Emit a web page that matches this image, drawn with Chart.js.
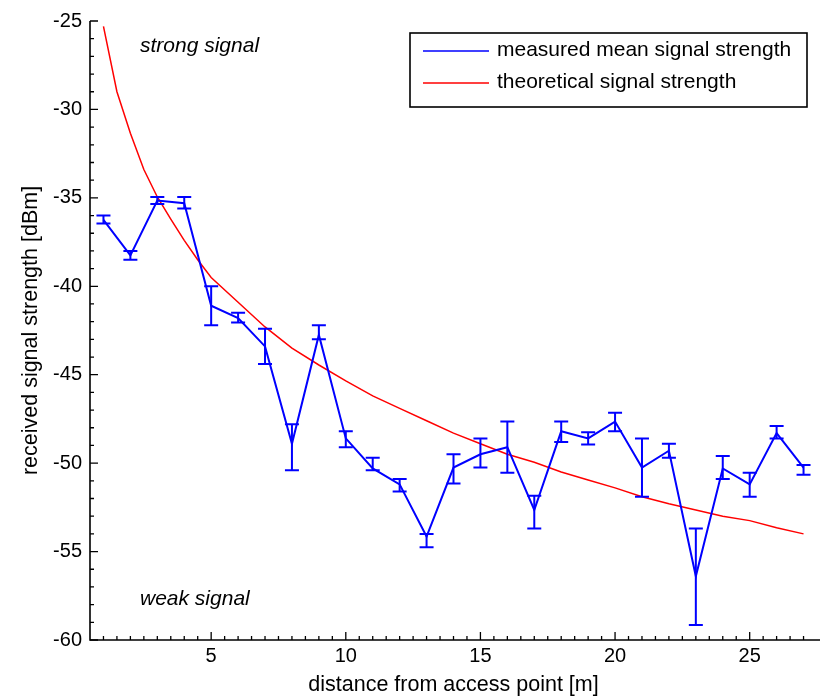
<!DOCTYPE html>
<html>
<head>
<meta charset="utf-8">
<script src="https://cdn.jsdelivr.net/npm/chart.js@4/dist/chart.umd.min.js"></script>
<style>
  html, body { margin: 0; padding: 0; background: #fff; }
  #wrap { width: 831px; height: 698px; }
</style>
</head>
<body>
<div id="wrap"><canvas id="myChart" width="831" height="698"></canvas></div>
<script>
// measured data (mean and error bar bounds)
var distance = [1, 2, 3, 4, 5, 6, 7, 8, 9, 10, 11, 12, 13, 14, 15, 16, 17, 18, 19, 20, 21, 22, 23, 24, 25, 26, 27];
var meanSignal = [-36.25, -38.25, -35.15, -35.3, -41.1, -41.8, -43.4, -48.9, -42.75, -48.6, -50.3, -51.2, -54.15,
                  -50.25, -49.5, -49.1, -52.65, -48.2, -48.6, -47.65, -50.25, -49.3, -56.4, -50.3, -51.2, -48.3, -50.25];
var errLow = [-36.45, -38.5, -35.35, -35.6, -42.2, -42.05, -44.4, -50.4, -43.0, -49.1, -50.4, -51.6, -54.75,
              -51.15, -50.25, -50.55, -53.7, -48.8, -48.95, -48.2, -51.9, -49.7, -59.15, -50.9, -51.9, -48.6, -50.65];
var errHigh = [-36.0, -38.0, -34.95, -34.95, -40.0, -41.5, -42.4, -47.8, -42.2, -48.2, -49.7, -50.9, -54.0,
               -49.5, -48.6, -47.65, -51.85, -47.65, -48.25, -47.15, -48.6, -48.9, -53.7, -49.6, -50.55, -47.9, -50.1];

// theoretical curve
var theoDistance = [1, 1.5, 2, 2.5, 3, 3.5, 4, 4.5, 5, 6, 7, 8, 9, 10, 11, 12, 13, 14, 15, 16, 17, 18, 19, 20, 21, 22, 23, 24, 25, 26, 27];
var theoSignal = [-25.3, -29.0, -31.35, -33.4, -34.95, -36.2, -37.4, -38.5, -39.5, -40.9, -42.3, -43.5, -44.45, -45.35,
                  -46.2, -46.9, -47.6, -48.3, -48.9, -49.5, -49.95, -50.5, -50.95, -51.4, -51.9, -52.3, -52.65, -53.0,
                  -53.25, -53.65, -54.0];

var xTicks = [5, 10, 15, 20, 25];
var yTicks = [-60, -55, -50, -45, -40, -35, -30, -25];
var seriesLabels = ['measured mean signal strength', 'theoretical signal strength'];

var fontFam = '"Liberation Sans", Arial, Helvetica, sans-serif';

function pts(xs, ys) {
  return xs.map(function (x, i) { return { x: x, y: ys[i] }; });
}

var extras = {
  id: 'extras',
  afterDatasetsDraw: function (chart) {
    var ctx = chart.ctx;
    var xs = chart.scales.x, ys = chart.scales.y;
    var a = chart.chartArea;
    ctx.save();

    // error bars
    ctx.strokeStyle = 'rgb(0,0,255)';
    ctx.lineWidth = 2;
    for (var i = 0; i < distance.length; i++) {
      var px = xs.getPixelForValue(distance[i]);
      var lo = ys.getPixelForValue(errLow[i]);
      var hi = ys.getPixelForValue(errHigh[i]);
      ctx.beginPath();
      ctx.moveTo(px, lo); ctx.lineTo(px, hi);
      ctx.moveTo(px - 7, lo); ctx.lineTo(px + 7, lo);
      ctx.moveTo(px - 7, hi); ctx.lineTo(px + 7, hi);
      ctx.stroke();
    }

    // inward ticks
    ctx.strokeStyle = '#000';
    ctx.lineWidth = 1.3;
    ctx.beginPath();
    for (var v = 1; v <= 27.01; v += 0.5) {
      var tx = xs.getPixelForValue(v);
      var len = (v % 5 === 0) ? 8 : 4;
      ctx.moveTo(tx, a.bottom); ctx.lineTo(tx, a.bottom - len);
    }
    for (var w = -60; w <= -25; w += 1) {
      var ty = ys.getPixelForValue(w);
      var len2 = (w % 5 === 0) ? 8 : 4;
      ctx.moveTo(a.left, ty); ctx.lineTo(a.left + len2, ty);
    }
    ctx.stroke();

    // axis lines
    ctx.lineWidth = 1.6;
    ctx.beginPath();
    ctx.moveTo(a.left, a.top); ctx.lineTo(a.left, a.bottom); ctx.lineTo(a.right + 3, a.bottom);
    ctx.stroke();

    // annotations
    ctx.fillStyle = '#000';
    ctx.font = 'italic 21px ' + fontFam;
    ctx.textBaseline = 'alphabetic';
    ctx.fillText('strong signal', 140, 52);
    ctx.fillText('weak signal', 140, 605);

    // legend
    var lx = 410, ly = 33, lw = 397, lh = 74;
    ctx.fillStyle = '#fff';
    ctx.fillRect(lx, ly, lw, lh);
    ctx.strokeStyle = '#000';
    ctx.lineWidth = 1.6;
    ctx.strokeRect(lx, ly, lw, lh);
    ctx.font = '21px ' + fontFam;
    ctx.textBaseline = 'middle';
    chart.data.datasets.forEach(function (ds, k) {
      var yy = ly + 18 + k * 32;
      ctx.strokeStyle = ds.borderColor;
      ctx.lineWidth = 1.5;
      ctx.beginPath();
      ctx.moveTo(lx + 13, yy); ctx.lineTo(lx + 79, yy);
      ctx.stroke();
      ctx.fillStyle = '#000';
      ctx.fillText(ds.label, lx + 87, yy - 1);
    });

    ctx.restore();
  }
};

var ctx = document.getElementById('myChart').getContext('2d');
var myChart = new Chart(ctx, {
  type: 'scatter',
  data: {
    datasets: [{
      label: seriesLabels[0],
      data: pts(distance, meanSignal),
      showLine: true,
      borderColor: 'rgb(0,0,255)',
      backgroundColor: 'rgb(0,0,255)',
      borderWidth: 2,
      pointRadius: 0,
      tension: 0
    }, {
      label: seriesLabels[1],
      data: pts(theoDistance, theoSignal),
      showLine: true,
      borderColor: 'rgb(255,0,0)',
      backgroundColor: 'rgb(255,0,0)',
      borderWidth: 1.5,
      pointRadius: 0,
      tension: 0
    }]
  },
  options: {
    responsive: false,
    animation: false,
    layout: { padding: { top: 21, right: 14, left: 0, bottom: 0 } },
    plugins: { legend: { display: false }, tooltip: { enabled: false } },
    scales: {
      x: {
        type: 'linear',
        min: 0.5,
        max: 27.5,
        grid: { display: false, drawTicks: false },
        border: { display: false },
        afterBuildTicks: function (s) { s.ticks = xTicks.map(function (v) { return { value: v }; }); },
        afterFit: function (s) { s.height = 58; },
        ticks: { color: '#000', padding: 4, maxRotation: 0, font: { family: fontFam, size: 20 } },
        title: { display: true, text: 'distance from access point [m]', color: '#000',
                 padding: { top: 0, bottom: 0 }, font: { family: fontFam, size: 21.5 } }
      },
      y: {
        type: 'linear',
        min: -60,
        max: -25,
        grid: { display: false, drawTicks: false },
        border: { display: false },
        afterBuildTicks: function (s) { s.ticks = yTicks.map(function (v) { return { value: v }; }); },
        afterFit: function (s) { s.width = 90; },
        ticks: { color: '#000', padding: 8, font: { family: fontFam, size: 20 } },
        title: { display: true, text: 'received signal strength [dBm]', color: '#000',
                 padding: { top: 18, bottom: 0 }, font: { family: fontFam, size: 21.5 } }
      }
    }
  },
  plugins: [extras]
});
</script>
</body>
</html>
